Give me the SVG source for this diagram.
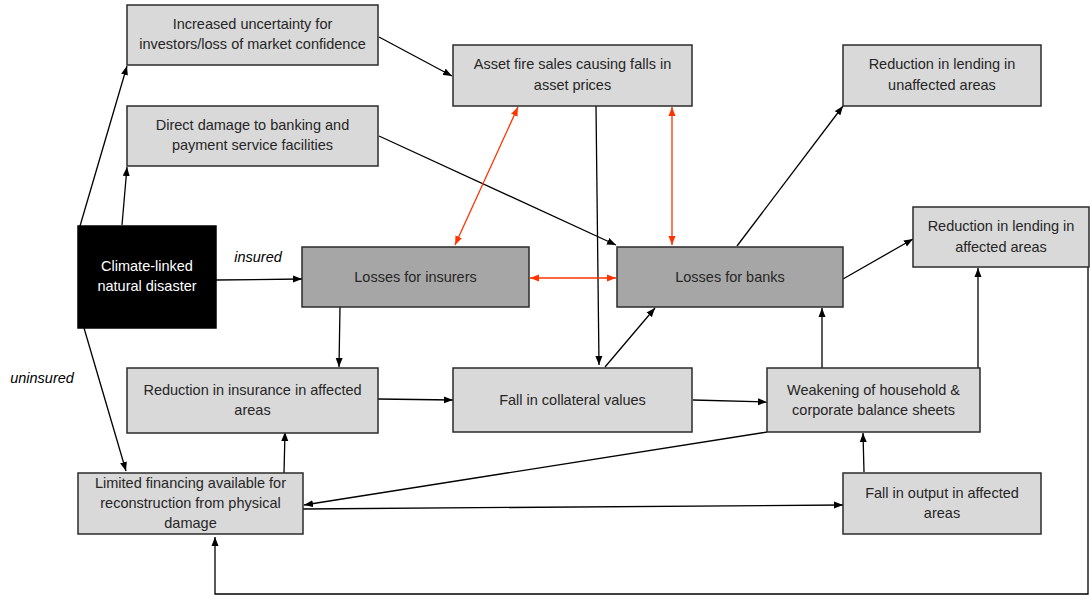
<svg xmlns="http://www.w3.org/2000/svg" width="1090" height="597" viewBox="0 0 1090 597">
<style>
.box{fill:#d9d9d9;stroke:#2b2b2b;stroke-width:1.5}
.dark{fill:#a6a6a6;stroke:#2b2b2b;stroke-width:1.5}
.blk{fill:#000;stroke:#000;stroke-width:1.5}
text{font-family:"Liberation Sans",Arial,sans-serif;font-size:14.5px;fill:#262626;text-anchor:middle}
.w{fill:#fff}
.it{font-style:italic;fill:#000}
.c{fill:none;stroke:#000;stroke-width:1.3}
.r{fill:none;stroke:#ff3300;stroke-width:1.3}
</style>
<defs>
<marker id="ab" markerUnits="userSpaceOnUse" markerWidth="10" markerHeight="8" refX="9" refY="4" orient="auto"><path d="M0,0.5 L9,4 L0,7.5 z" fill="#000"/></marker>
<marker id="ar" markerUnits="userSpaceOnUse" markerWidth="10" markerHeight="8" refX="9" refY="4" orient="auto-start-reverse"><path d="M0,0.5 L9,4 L0,7.5 z" fill="#ff3300"/></marker>
</defs>
<rect width="1090" height="597" fill="#fff"/>
<g id="connectors">
<path class="c" d="M80,226 L127,66" marker-end="url(#ab)"/>
<path class="c" d="M122,225 L127,167" marker-end="url(#ab)"/>
<path class="c" d="M379,37 L452,76" marker-end="url(#ab)"/>
<path class="c" d="M379,136 L616,245" marker-end="url(#ab)"/>
<path class="c" d="M596,106 L599,365" marker-end="url(#ab)"/>
<path class="c" d="M605,367 L655,308" marker-end="url(#ab)"/>
<path class="c" d="M216,280 L302,279" marker-end="url(#ab)"/>
<path class="c" d="M340,307 L339,367" marker-end="url(#ab)"/>
<path class="c" d="M84,328 L126,471" marker-end="url(#ab)"/>
<path class="c" d="M378,399 L453,400" marker-end="url(#ab)"/>
<path class="c" d="M693,400 L767,402" marker-end="url(#ab)"/>
<path class="c" d="M284,473 L285,432" marker-end="url(#ab)"/>
<path class="c" d="M767,432 L304,505" marker-end="url(#ab)"/>
<path class="c" d="M303,509 L843,505" marker-end="url(#ab)"/>
<path class="c" d="M864,472 L863,433" marker-end="url(#ab)"/>
<path class="c" d="M822,368 L822,308" marker-end="url(#ab)"/>
<path class="c" d="M978,368 L978,268" marker-end="url(#ab)"/>
<path class="c" d="M737,246 L843,106" marker-end="url(#ab)"/>
<path class="c" d="M843,279 L913,239" marker-end="url(#ab)"/>
<path class="c" d="M1088,267 V594 H215 V537" marker-end="url(#ab)"/>
<path class="r" d="M455,245 L518,107" marker-start="url(#ar)" marker-end="url(#ar)"/>
<path class="r" d="M672,245 L672,107" marker-start="url(#ar)" marker-end="url(#ar)"/>
<path class="r" d="M530,278 L616,278" marker-start="url(#ar)" marker-end="url(#ar)"/>
<text class="it" x="258" y="262">insured</text>
<text class="it" x="42" y="383">uninsured</text>
</g>
<g id="n_uncertainty"><rect class="box" x="127" y="5" width="251" height="60"/><text x="252.5" y="29">Increased uncertainty for</text><text x="252.5" y="49">investors/loss of market confidence</text></g>
<g id="n_direct"><rect class="box" x="127" y="106" width="251" height="60"/><text x="252.5" y="130">Direct damage to banking and</text><text x="252.5" y="150">payment service facilities</text></g>
<g id="n_firesales"><rect class="box" x="453" y="45" width="239" height="61"/><text x="572.5" y="69">Asset fire sales causing falls in</text><text x="572.5" y="90">asset prices</text></g>
<g id="n_unaffected"><rect class="box" x="843" y="45" width="198" height="61"/><text x="942" y="69">Reduction in lending in</text><text x="942" y="90">unaffected areas</text></g>
<g id="n_affected"><rect class="box" x="913" y="207" width="176" height="60"/><text x="1001" y="231">Reduction in lending in</text><text x="1001" y="252">affected areas</text></g>
<g id="n_disaster"><rect class="blk" x="78" y="226" width="138" height="102"/><text class="w" x="147" y="271">Climate-linked</text><text class="w" x="147" y="291">natural disaster</text></g>
<g id="n_insurers"><rect class="dark" x="302" y="247" width="227" height="60"/><text x="415.5" y="282">Losses for insurers</text></g>
<g id="n_banks"><rect class="dark" x="617" y="247" width="226" height="60"/><text x="730" y="282">Losses for banks</text></g>
<g id="n_insurance"><rect class="box" x="127" y="368" width="251" height="65"/><text x="252.5" y="395">Reduction in insurance in affected</text><text x="252.5" y="415">areas</text></g>
<g id="n_collateral"><rect class="box" x="453" y="368" width="239" height="64"/><text x="572.5" y="405">Fall in collateral values</text></g>
<g id="n_weakening"><rect class="box" x="767" y="368" width="213" height="64"/><text x="873.5" y="395">Weakening of household &amp;</text><text x="873.5" y="415">corporate balance sheets</text></g>
<g id="n_financing"><rect class="box" x="78" y="473" width="225" height="61"/><text x="190.5" y="488">Limited financing available for</text><text x="190.5" y="508">reconstruction from physical</text><text x="190.5" y="528">damage</text></g>
<g id="n_output"><rect class="box" x="843" y="473" width="198" height="61"/><text x="942" y="498">Fall in output in affected</text><text x="942" y="518">areas</text></g>
</svg>
